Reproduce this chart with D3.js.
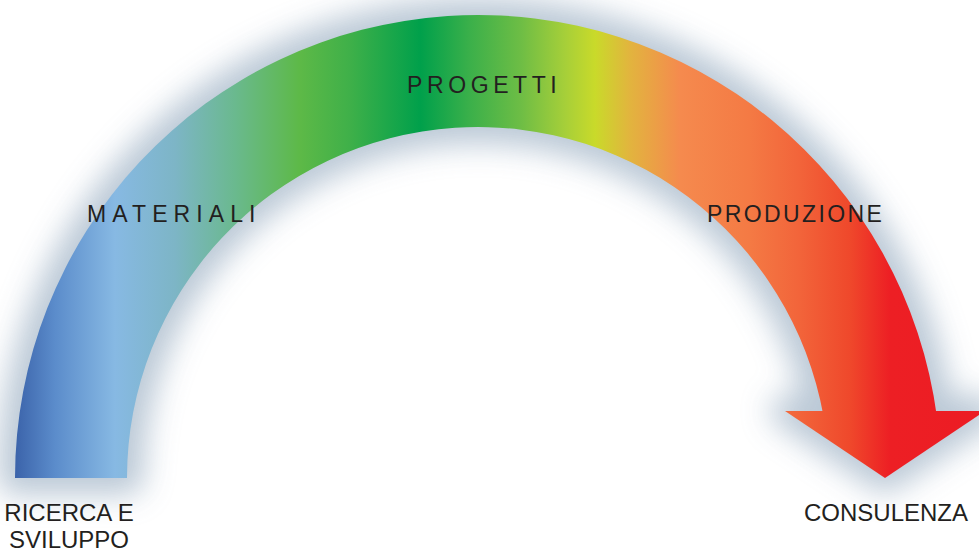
<!DOCTYPE html>
<html>
<head>
<meta charset="utf-8">
<script src="https://cdn.jsdelivr.net/npm/d3@7"></script>
<style>
  html, body { margin: 0; padding: 0; background: #fff; }
  svg { display: block; }
</style>
</head>
<body>
<div id="chart"></div>
<script>
// stages along the arc, from start to end
const stages = ["RICERCA E SVILUPPO", "MATERIALI", "PROGETTI", "PRODUZIONE", "CONSULENZA"];

// colour ramp read along the band, left to right (0 = left edge, 1 = arrow tip side)
const rampStops = [0, 0.041, 0.103, 0.165, 0.227, 0.294, 0.345, 0.418, 0.469, 0.521, 0.567, 0.598, 0.634, 0.686, 0.757, 0.809, 0.861, 0.902, 1];
const rampColors = ["#3b63aa", "#5b8ccb", "#87b9e3", "#7db5c6", "#6ab98e", "#5db947", "#3fb049", "#00a04b",
                    "#3bb04a", "#6dbd45", "#a6cf39", "#c9da2a", "#e2b43e", "#f58a4e", "#f47a44", "#f2643a",
                    "#ef482b", "#ed1f24", "#ec1c24"];

const width = 979, height = 553;

const svg = d3.select("#chart").append("svg")
    .attr("width", width)
    .attr("height", height);

const defs = svg.append("defs");

// geometry of the band
const cx = 478, cy = 478;
const rIn = 351, rOut = 463;
const startAngle = -Math.PI / 2;
const endAngle = 82.5 * Math.PI / 180;

// arrow head
const headBaseY = 411, headTipY = 478, headHalf = 100, headCx = 885;

const xRamp = d3.scaleLinear().domain([0, 1]).range([cx - rOut, headCx + headHalf]);

// same ramp in page space; the arc is drawn around its centre, so shift it there
function makeRamp(id, shift) {
    const g = defs.append("linearGradient")
        .attr("id", id)
        .attr("gradientUnits", "userSpaceOnUse")
        .attr("x1", xRamp(0) - shift).attr("x2", xRamp(1) - shift)
        .attr("y1", 0).attr("y2", 0);
    g.selectAll("stop")
        .data(rampStops)
        .join("stop")
        .attr("offset", d => d)
        .attr("stop-color", (d, i) => rampColors[i]);
}
makeRamp("ramp", 0);
makeRamp("rampArc", cx);

const blur = defs.append("filter")
    .attr("id", "glow")
    .attr("x", "-20%").attr("y", "-20%")
    .attr("width", "140%").attr("height", "140%");
blur.append("feGaussianBlur").attr("stdDeviation", 15);

const arc = d3.arc()
    .innerRadius(rIn)
    .outerRadius(rOut)
    .startAngle(startAngle)
    .endAngle(endAngle);

const head = d3.line()([
    [headCx - headHalf, headBaseY],
    [headCx + headHalf, headBaseY],
    [headCx, headTipY]
]) + "Z";

// soft shadow round the shape
const shadowColor = "#b4c3d2";
const shadow = svg.append("g")
    .attr("filter", "url(#glow)")
    .attr("opacity", 0.9);
shadow.append("path")
    .attr("transform", `translate(${cx},${cy})`)
    .attr("d", arc)
    .attr("fill", shadowColor)
    .attr("stroke", shadowColor)
    .attr("stroke-width", 34)
    .attr("stroke-linejoin", "round");
shadow.append("path")
    .attr("d", head)
    .attr("fill", shadowColor)
    .attr("stroke", shadowColor)
    .attr("stroke-width", 30)
    .attr("stroke-linejoin", "round");

// the band and the arrow head
svg.append("path")
    .attr("transform", `translate(${cx},${cy})`)
    .attr("d", arc)
    .attr("fill", "url(#rampArc)");

svg.append("path")
    .attr("d", head)
    .attr("fill", "url(#ramp)");

// labels
const font = "'Liberation Sans', Arial, Helvetica, sans-serif";
const ink = "#231f20";

const arcLabels = [
    {text: stages[1], x: 87, y: 222, spacing: 6.1},
    {text: stages[2], x: 407, y: 93, spacing: 4.6},
    {text: stages[3], x: 707, y: 222, spacing: 2.4}
];

svg.selectAll("text.arc-label")
    .data(arcLabels)
    .join("text")
    .attr("class", "arc-label")
    .attr("x", d => d.x)
    .attr("y", d => d.y)
    .attr("font-family", font)
    .attr("font-size", 23)
    .attr("letter-spacing", d => d.spacing)
    .attr("fill", ink)
    .text(d => d.text);

// start label under the left end, two lines
const startLines = ["RICERCA E", "SVILUPPO"];
const startX = cx - (rIn + rOut) / 2 - 2;
svg.append("text")
    .attr("x", startX)
    .attr("y", 521)
    .attr("text-anchor", "middle")
    .attr("font-family", font)
    .attr("font-size", 24)
    .attr("fill", ink)
    .selectAll("tspan")
    .data(startLines)
    .join("tspan")
    .attr("x", startX)
    .attr("dy", (d, i) => i === 0 ? 0 : 27)
    .text(d => d);

// end label under the arrow tip
svg.append("text")
    .attr("x", headCx + 1)
    .attr("y", 521)
    .attr("text-anchor", "middle")
    .attr("font-family", font)
    .attr("font-size", 24)
    .attr("fill", ink)
    .text(stages[4]);
</script>
</body>
</html>
